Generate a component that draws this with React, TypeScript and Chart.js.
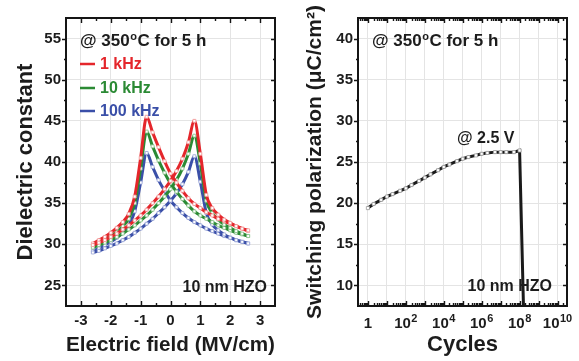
import React, { useEffect, useRef } from 'react';
import { Chart, registerables } from 'chart.js';

Chart.register(...registerables);

// ---------- data ----------
const FIELD = [-2.6, -2.4, -2.2, -2.0, -1.8, -1.6, -1.4, -1.2, -1.0, -0.8, -0.6, -0.4, -0.2, 0, 0.2, 0.4, 0.6, 0.8, 1.0, 1.2, 1.4, 1.6, 1.8, 2.0, 2.2, 2.4, 2.6];

const RED_FWD = [29.9, 30.2, 30.5, 30.9, 31.3, 31.8, 32.3, 32.9, 33.5, 34.2, 35.0, 35.8, 36.7, 37.7, 38.9, 40.4, 42.4, 45.0, 41.0, 36.0, 34.4, 33.6, 33.0, 32.6, 32.2, 31.9, 31.7];
const RED_REV = [30.1, 30.5, 30.9, 31.4, 32.0, 32.7, 33.7, 35.8, 40.5, 45.5, 43.6, 41.8, 40.1, 38.6, 37.5, 36.5, 35.6, 34.9, 34.4, 33.9, 33.5, 33.1, 32.8, 32.5, 32.2, 31.9, 31.6];
const GREEN_FWD = [29.6, 29.9, 30.2, 30.5, 30.9, 31.3, 31.8, 32.3, 32.9, 33.5, 34.2, 35.0, 35.8, 36.7, 37.8, 39.2, 41.0, 43.2, 39.8, 35.3, 33.8, 33.0, 32.4, 32.0, 31.6, 31.3, 31.0];
const GREEN_REV = [29.8, 30.2, 30.6, 31.0, 31.5, 32.2, 33.1, 35.0, 39.2, 43.7, 41.9, 40.2, 38.7, 37.4, 36.4, 35.5, 34.7, 34.0, 33.5, 33.1, 32.7, 32.3, 32.0, 31.7, 31.4, 31.2, 31.0];
const BLUE_FWD = [29.0, 29.2, 29.5, 29.8, 30.1, 30.5, 30.9, 31.4, 31.9, 32.5, 33.1, 33.8, 34.5, 35.3, 36.2, 37.3, 38.8, 40.7, 37.6, 33.8, 32.4, 31.7, 31.2, 30.8, 30.5, 30.3, 30.1];
const BLUE_REV = [29.2, 29.5, 29.9, 30.3, 30.8, 31.4, 32.3, 34.0, 37.5, 41.1, 39.4, 37.8, 36.5, 35.3, 34.5, 33.8, 33.2, 32.7, 32.3, 31.9, 31.6, 31.3, 31.0, 30.8, 30.5, 30.3, 30.1];

const FREQ_LABELS = ['1 kHz', '10 kHz', '100 kHz'];

const LEFT_X_TICKS = [-3, -2, -1, 0, 1, 2, 3];
const LEFT_Y_TICKS = [25, 30, 35, 40, 45, 50, 55];

const CYCLES = [1, 2, 5, 10, 20, 50, 1e2, 2e2, 5e2, 1e3, 2e3, 5e3, 1e4, 2e4, 5e4, 1e5, 2e5, 5e5, 1e6, 2e6, 5e6, 1e7, 2e7, 5e7, 1e8, 1.7e8];
const POLARIZATION = [19.4, 19.9, 20.4, 20.8, 21.1, 21.5, 21.8, 22.2, 22.7, 23.1, 23.5, 24.0, 24.4, 24.7, 25.1, 25.4, 25.6, 25.8, 26.0, 26.1, 26.2, 26.2, 26.2, 26.2, 26.4, 5.0];

const DECADES = [0, 1, 2, 3, 4, 5, 6, 7, 8, 9, 10];
// label: [mantissa, exponent] ('' = no label)
const RIGHT_X_LABELS: [string, string][] = [['1', ''], ['', ''], ['10', '2'], ['', ''], ['10', '4'], ['', ''], ['10', '6'], ['', ''], ['10', '8'], ['', ''], ['10', '10']];
const RIGHT_Y_TICKS = [10, 15, 20, 25, 30, 35, 40];

// ---------- style ----------
const FONT = "'Liberation Sans', Arial, Helvetica, sans-serif";
const TEXT = '#1c1c1c';
const RED = '#e4262b';
const GREEN = '#2b8a34';
const BLUE = '#3a4fa8';
const GRID = '#e4e4e4';

type TickSpec = { v: number; len: number };

function framePlugin(xTicks: TickSpec[], yTicks: TickSpec[]) {
  return {
    id: 'frame',
    afterDatasetsDraw(chart: any) {
      const { ctx, chartArea: a, scales } = chart;
      const xs = scales.x;
      const ys = scales.y;
      ctx.save();
      ctx.strokeStyle = '#151515';
      ctx.lineWidth = 1.4;
      ctx.beginPath();
      for (const t of xTicks) {
        const px = Math.round(xs.getPixelForValue(t.v)) + 0.5;
        if (px < a.left + 1 || px > a.right - 1) continue;
        ctx.moveTo(px, a.bottom);
        ctx.lineTo(px, a.bottom - t.len);
        ctx.moveTo(px, a.top);
        ctx.lineTo(px, a.top + t.len);
      }
      for (const t of yTicks) {
        const py = Math.round(ys.getPixelForValue(t.v)) + 0.5;
        if (py < a.top + 1 || py > a.bottom - 1) continue;
        ctx.moveTo(a.left, py);
        ctx.lineTo(a.left - t.len, py);
        ctx.moveTo(a.right, py);
        ctx.lineTo(a.right - t.len, py);
      }
      ctx.stroke();
      ctx.lineWidth = 2;
      ctx.strokeRect(a.left, a.top, a.right - a.left, a.bottom - a.top);
      ctx.restore();
    },
  };
}

function drawTemp(ctx: CanvasRenderingContext2D, x: number, y: number) {
  ctx.font = `bold 17px ${FONT}`;
  ctx.fillStyle = TEXT;
  ctx.textAlign = 'left';
  ctx.textBaseline = 'alphabetic';
  const a = '@ 350';
  ctx.fillText(a, x, y);
  let cx = x + ctx.measureText(a).width + 0.5;
  ctx.font = `bold 11px ${FONT}`;
  ctx.fillText('o', cx, y - 6);
  cx += ctx.measureText('o').width + 0.5;
  ctx.font = `bold 17px ${FONT}`;
  ctx.fillText('C for 5 h', cx, y);
}

const leftNotes = {
  id: 'leftNotes',
  afterDraw(chart: any) {
    const { ctx, chartArea: a } = chart;
    ctx.save();
    drawTemp(ctx, a.left + 14, a.top + 28);
    const colors = [RED, GREEN, BLUE];
    const ys = [a.top + 46, a.top + 70, a.top + 93];
    FREQ_LABELS.forEach((lab, i) => {
      ctx.strokeStyle = colors[i];
      ctx.lineWidth = 2.5;
      ctx.beginPath();
      ctx.moveTo(a.left + 14, ys[i]);
      ctx.lineTo(a.left + 29, ys[i]);
      ctx.stroke();
      ctx.font = `bold 16px ${FONT}`;
      ctx.fillStyle = colors[i];
      ctx.textAlign = 'left';
      ctx.textBaseline = 'middle';
      ctx.fillText(lab, a.left + 34, ys[i] + 1);
    });
    ctx.font = `bold 16px ${FONT}`;
    ctx.fillStyle = TEXT;
    ctx.textAlign = 'right';
    ctx.textBaseline = 'alphabetic';
    ctx.fillText('10 nm HZO', a.right - 8, a.bottom - 14);
    ctx.restore();
  },
};

const rightNotes = {
  id: 'rightNotes',
  afterDraw(chart: any) {
    const { ctx, chartArea: a, scales } = chart;
    ctx.save();
    drawTemp(ctx, a.left + 14, a.top + 28);
    ctx.font = `bold 16px ${FONT}`;
    ctx.fillStyle = TEXT;
    ctx.textAlign = 'left';
    ctx.textBaseline = 'alphabetic';
    ctx.fillText('@ 2.5 V', a.left + 99, a.top + 125);
    ctx.textAlign = 'right';
    ctx.fillText('10 nm HZO', a.right - 15, a.bottom - 15);
    // x tick labels with real superscripts
    const base = a.bottom + 22;
    DECADES.forEach((d, i) => {
      const [m, e] = RIGHT_X_LABELS[i];
      if (!m) return;
      const px = scales.x.getPixelForValue(Math.pow(10, d));
      ctx.font = `bold 15px ${FONT}`;
      const wm = ctx.measureText(m).width;
      ctx.font = `bold 11px ${FONT}`;
      const we = e ? ctx.measureText(e).width + 0.5 : 0;
      const x0 = px - (wm + we) / 2;
      ctx.textAlign = 'left';
      ctx.font = `bold 15px ${FONT}`;
      ctx.fillText(m, x0, base);
      if (e) {
        ctx.font = `bold 11px ${FONT}`;
        ctx.fillText(e, x0 + wm + 0.5, base - 6);
      }
    });
    ctx.restore();
  },
};

function seriesSet(fwd: number[], rev: number[], color: string, light: string) {
  const mk = (vals: number[]) => ({
    data: FIELD.map((x, i) => ({ x, y: vals[i] })),
    borderColor: color,
    borderWidth: 3,
    pointStyle: 'rect',
    pointRadius: 2.1,
    pointBackgroundColor: '#ffffff',
    pointBorderColor: light,
    pointBorderWidth: 0.8,
    cubicInterpolationMode: 'monotone',
    clip: 0,
  });
  return [mk(fwd), mk(rev)];
}

function leftConfig(): any {
  const xMinor: TickSpec[] = [];
  for (let v = -3.5; v <= 3.5001; v += 0.5) {
    xMinor.push({ v, len: Math.abs(v - Math.round(v)) < 1e-6 ? 5 : 3 });
  }
  const yMinor: TickSpec[] = [];
  for (let v = 22.5; v <= 57.5001; v += 2.5) {
    yMinor.push({ v, len: Math.abs(v / 5 - Math.round(v / 5)) < 1e-6 ? 4 : 2 });
  }
  return {
    type: 'line',
    data: {
      datasets: [
        ...seriesSet(RED_FWD, RED_REV, RED, '#f39a9a'),
        ...seriesSet(GREEN_FWD, GREEN_REV, GREEN, '#8cc48c'),
        ...seriesSet(BLUE_FWD, BLUE_REV, BLUE, '#9aa6d8'),
      ],
    },
    options: {
      responsive: false,
      animation: false,
      layout: { padding: { left: 0, right: 15, top: 18, bottom: 0 } },
      plugins: { legend: { display: false }, tooltip: { enabled: false } },
      scales: {
        x: {
          type: 'linear',
          min: -3.5,
          max: 3.5,
          afterBuildTicks: (s: any) => { s.ticks = LEFT_X_TICKS.map((v) => ({ value: v })); },
          afterFit: (s: any) => { s.height = 55; },
          grid: { color: GRID, lineWidth: 1, drawTicks: false },
          border: { display: false },
          ticks: { color: TEXT, font: { family: FONT, size: 15, weight: 'bold' }, padding: 6, maxRotation: 0 },
          title: { display: true, text: 'Electric field (MV/cm)', color: TEXT, font: { family: FONT, size: 21, weight: 'bold' }, padding: { top: 0, bottom: 3 } },
        },
        y: {
          type: 'linear',
          min: 22.5,
          max: 57.5,
          afterBuildTicks: (s: any) => { s.ticks = LEFT_Y_TICKS.map((v) => ({ value: v })); },
          afterFit: (s: any) => { s.width = 66; },
          grid: { color: GRID, lineWidth: 1, drawTicks: false },
          border: { display: false },
          ticks: { color: TEXT, font: { family: FONT, size: 15, weight: 'bold' }, padding: 5 },
          title: { display: true, text: 'Dielectric constant', color: TEXT, font: { family: FONT, size: 22, weight: 'bold' }, padding: { top: 13, bottom: 0 } },
        },
      },
    },
    plugins: [framePlugin(xMinor, yMinor), leftNotes],
  };
}

function rightConfig(): any {
  const xMinor: TickSpec[] = [];
  for (let d = -1; d <= 10; d++) {
    for (let k = 1; k <= 9; k++) {
      const v = k * Math.pow(10, d);
      if (v < 0.316 || v > 3.16e10) continue;
      xMinor.push({ v, len: k === 1 ? 5 : 3 });
    }
  }
  const yMinor: TickSpec[] = [];
  for (let v = 7.5; v <= 42.5001; v += 2.5) {
    yMinor.push({ v, len: Math.abs(v / 5 - Math.round(v / 5)) < 1e-6 ? 4 : 2 });
  }
  const last = CYCLES.length - 1;
  return {
    type: 'line',
    data: {
      datasets: [
        {
          data: CYCLES.map((x, i) => ({ x, y: POLARIZATION[i] })),
          borderColor: '#1a1a1a',
          borderWidth: 3,
          pointStyle: 'rect',
          pointRadius: (c: any) => (c.dataIndex === last ? 0 : 2.2),
          pointBackgroundColor: '#ffffff',
          pointBorderColor: '#9a9a9a',
          pointBorderWidth: 0.8,
          tension: 0,
          clip: 0,
        },
      ],
    },
    options: {
      responsive: false,
      animation: false,
      layout: { padding: { left: 0, right: 12, top: 18, bottom: 0 } },
      plugins: { legend: { display: false }, tooltip: { enabled: false } },
      scales: {
        x: {
          type: 'logarithmic',
          min: 0.316,
          max: 3.16e10,
          afterBuildTicks: (s: any) => { s.ticks = DECADES.map((d) => ({ value: Math.pow(10, d) })); },
          afterFit: (s: any) => { s.height = 55; },
          grid: { color: GRID, lineWidth: 1, drawTicks: false },
          border: { display: false },
          ticks: { display: false },
          title: { display: true, text: 'Cycles', color: TEXT, font: { family: FONT, size: 22, weight: 'bold' }, padding: { top: 0, bottom: 3 } },
        },
        y: {
          type: 'linear',
          min: 7.5,
          max: 42.5,
          afterBuildTicks: (s: any) => { s.ticks = RIGHT_Y_TICKS.map((v) => ({ value: v })); },
          afterFit: (s: any) => { s.width = 68; },
          grid: { color: GRID, lineWidth: 1, drawTicks: false },
          border: { display: false },
          ticks: { color: TEXT, font: { family: FONT, size: 15, weight: 'bold' }, padding: 5 },
          title: { display: true, text: 'Switching polarization (μC/cm²)', color: TEXT, font: { family: FONT, size: 21, weight: 'bold' }, padding: { top: 13, bottom: 0 } },
        },
      },
    },
    plugins: [framePlugin(xMinor, yMinor), rightNotes],
  };
}

function Panel({ width, left, make }: { width: number; left: number; make: () => any }) {
  const ref = useRef<HTMLCanvasElement | null>(null);
  useEffect(() => {
    if (!ref.current) return;
    const chart = new Chart(ref.current, make());
    return () => chart.destroy();
  }, []);
  return (
    <canvas
      ref={ref}
      width={width}
      height={361}
      style={{ position: 'absolute', left, top: 0, width, height: 361 }}
    />
  );
}

export default function App() {
  return (
    <div style={{ position: 'fixed', left: 0, top: 0, width: 579, height: 361, background: '#ffffff', overflow: 'hidden' }}>
      <Panel width={290} left={0} make={leftConfig} />
      <Panel width={289} left={290} make={rightConfig} />
    </div>
  );
}
